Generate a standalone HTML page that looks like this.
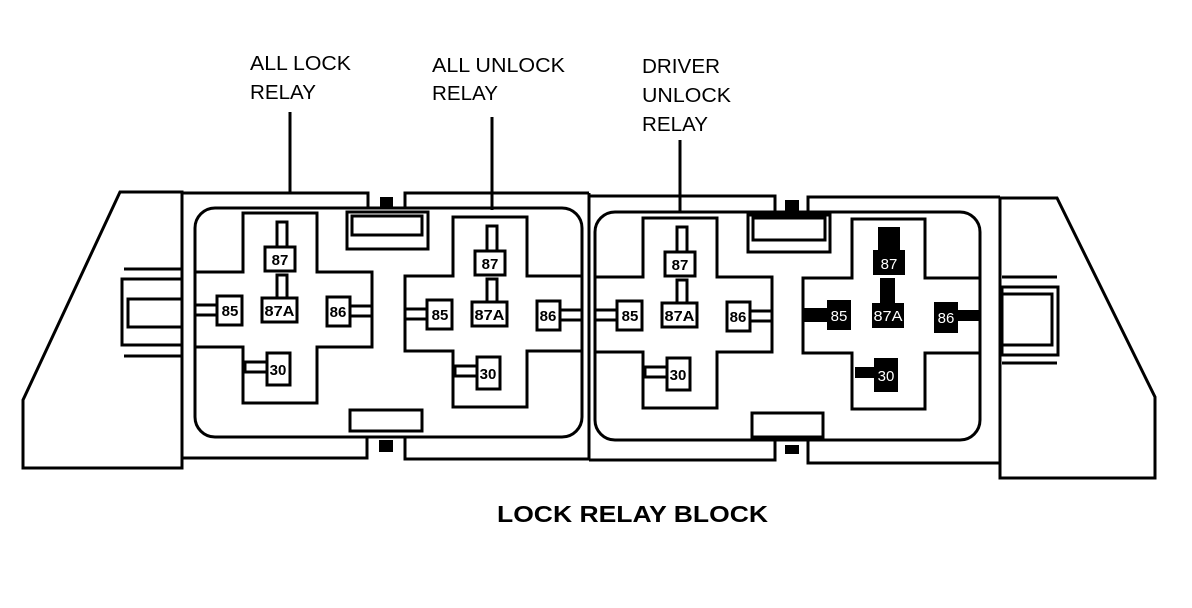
<!DOCTYPE html>
<html><head><style>
html,body{margin:0;padding:0;background:#fff;}
svg{display:block;}
text{font-family:"Liberation Sans",Arial,sans-serif;}
</style></head><body>
<svg width="1192" height="608" viewBox="0 0 1192 608" xmlns="http://www.w3.org/2000/svg">
<defs>
<g id="relay" stroke="#000" stroke-width="3" fill="#fff">
  <polygon points="0,0 74,0 74,59 129,59 129,134 74,134 74,190 0,190 0,134 -48,134 -48,59 0,59"/>
  <rect x="34" y="9" width="10" height="27"/>
  <rect x="22" y="34" width="30" height="24"/>
  <rect x="34" y="62" width="10" height="25"/>
  <rect x="19" y="85" width="35" height="24"/>
  <rect x="-48" y="92" width="30" height="10"/>
  <rect x="-26" y="83" width="25" height="29"/>
  <rect x="104" y="93" width="25" height="10"/>
  <rect x="84" y="84" width="23" height="29"/>
  <rect x="2" y="149" width="25" height="10"/>
  <rect x="24" y="140" width="23" height="32"/>
  <g fill="#000" stroke="none" font-size="15" font-weight="bold" text-anchor="middle">
    <text x="37" y="52">87</text>
    <text x="36.5" y="103" textLength="30" lengthAdjust="spacingAndGlyphs">87A</text>
    <text x="-13" y="103">85</text>
    <text x="95" y="104">86</text>
    <text x="35" y="162">30</text>
  </g>
</g>
</defs>
<g fill="none" stroke="#000" stroke-width="3">
  <polygon points="120,192 182,192 182,468 23,468 23,400" fill="#fff"/>
  <line x1="124" y1="269" x2="182" y2="269"/>
  <rect x="122" y="279" width="60" height="66"/>
  <rect x="128" y="299" width="54" height="28"/>
  <line x1="124" y1="356" x2="182" y2="356"/>
  <polygon points="1000,198 1057,198 1155,397 1155,478 1000,478" fill="#fff"/>
  <line x1="1002" y1="277" x2="1057" y2="277"/>
  <rect x="1002" y="287" width="56" height="68"/>
  <rect x="1002" y="294" width="50" height="51"/>
  <line x1="1002" y1="363" x2="1057" y2="363"/>
  <polyline points="182,193 368,193 368,208"/>
  <polyline points="405,208 405,193 589,193"/>
  <polyline points="182,458 367,458 367,437"/>
  <polyline points="405,437 405,459 589,459"/>
  <line x1="589" y1="193" x2="589" y2="460"/>
  <polyline points="589,196 775,196 775,212"/>
  <polyline points="808,212 808,197 1000,197"/>
  <polyline points="589,460 775,460 775,440"/>
  <polyline points="808,440 808,463 1000,463"/>
  <rect x="195" y="208" width="387" height="229" rx="20" fill="#fff"/>
  <rect x="595" y="212" width="385" height="228" rx="20" fill="#fff"/>
</g>
<rect x="380" y="197" width="13" height="10" fill="#000"/>
<rect x="379" y="440" width="14" height="12" fill="#000"/>
<rect x="785" y="200" width="14" height="12" fill="#000"/>
<rect x="785" y="445" width="14" height="9" fill="#000"/>
<g fill="#fff" stroke="#000" stroke-width="3">
  <rect x="347" y="212" width="81" height="37"/>
  <rect x="352" y="216" width="70" height="19"/>
  <rect x="350" y="410" width="72" height="21"/>
  <rect x="748" y="215" width="82" height="37"/>
  <rect x="753" y="218" width="72" height="22"/>
  <rect x="752" y="413" width="71" height="24"/>
</g>
<use href="#relay" transform="translate(243,213)"/>
<use href="#relay" transform="translate(453,217)"/>
<use href="#relay" transform="translate(643,218)"/>
<g transform="translate(852,219)">
  <polygon points="0,0 73,0 73,59 128,59 128,134 73,134 73,190 0,190 0,134 -49,134 -49,59 0,59" fill="#fff" stroke="#000" stroke-width="3"/>
  <g fill="#000">
    <rect x="26" y="8" width="22" height="26"/>
    <rect x="21" y="31" width="32" height="25"/>
    <rect x="28" y="59" width="15" height="26"/>
    <rect x="20" y="84" width="32" height="25"/>
    <rect x="-49" y="89" width="30" height="14"/>
    <rect x="-25" y="81" width="24" height="30"/>
    <rect x="104" y="91" width="24" height="11"/>
    <rect x="82" y="83" width="24" height="31"/>
    <rect x="3" y="148" width="22" height="11"/>
    <rect x="22" y="139" width="24" height="34"/>
  </g>
  <g fill="#fff" font-size="15" text-anchor="middle">
    <text x="37" y="50">87</text>
    <text x="36" y="102" textLength="29" lengthAdjust="spacingAndGlyphs">87A</text>
    <text x="-13" y="102">85</text>
    <text x="94" y="104">86</text>
    <text x="34" y="162">30</text>
  </g>
</g>
<g fill="#000" font-size="20">
  <text x="250" y="70" textLength="101" lengthAdjust="spacingAndGlyphs">ALL LOCK</text>
  <text x="250" y="99" textLength="66" lengthAdjust="spacingAndGlyphs">RELAY</text>
  <text x="432" y="72" textLength="133" lengthAdjust="spacingAndGlyphs">ALL UNLOCK</text>
  <text x="432" y="100" textLength="66" lengthAdjust="spacingAndGlyphs">RELAY</text>
  <text x="642" y="73" textLength="78" lengthAdjust="spacingAndGlyphs">DRIVER</text>
  <text x="642" y="102" textLength="89" lengthAdjust="spacingAndGlyphs">UNLOCK</text>
  <text x="642" y="131" textLength="66" lengthAdjust="spacingAndGlyphs">RELAY</text>
  <text x="497" y="522" font-size="23" font-weight="bold" textLength="271" lengthAdjust="spacingAndGlyphs">LOCK RELAY BLOCK</text>
</g>
<g stroke="#000" stroke-width="3">
  <line x1="290" y1="112" x2="290" y2="193"/>
  <line x1="492" y1="117" x2="492" y2="210"/>
  <line x1="680" y1="140" x2="680" y2="212"/>
</g>
</svg>
</body></html>
